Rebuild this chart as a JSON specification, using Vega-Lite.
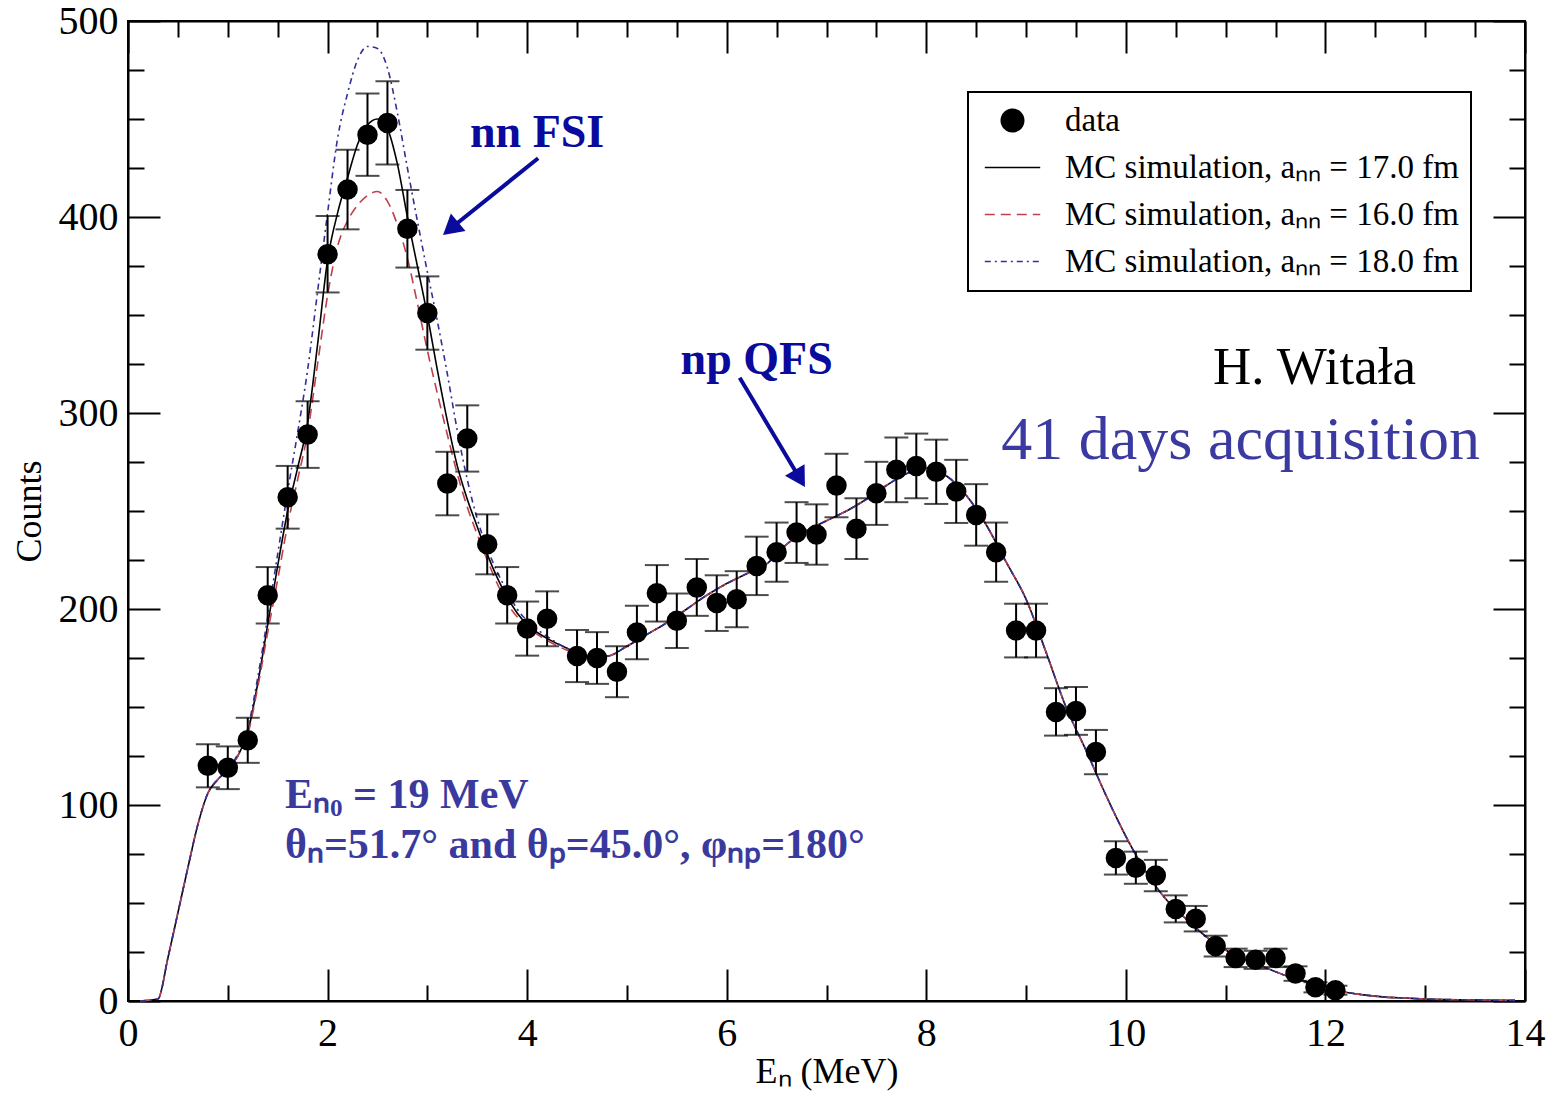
{
  "$schema": "https://vega.github.io/schema/vega-lite/v6.json",
  "width": 1397,
  "height": 980,
  "autosize": {"type": "none"},
  "padding": {"left": 128, "top": 21, "right": 25, "bottom": 98},
  "background": "white",
  "config": {
    "view": {"stroke": "black", "strokeWidth": 2},
    "font": "Liberation Serif",
    "axis": {
      "grid": false, "domainColor": "black", "domainWidth": 2,
      "tickColor": "black", "tickWidth": 2,
      "labelColor": "black", "titleColor": "black",
      "labelFont": "Liberation Serif", "titleFont": "Liberation Serif",
      "titleFontWeight": "normal", "labelFontSize": 40, "titleFontSize": 36
    }
  },
  "resolve": {"axis": {"x": "independent", "y": "independent"}},
  "datasets": {
    "points": [
      {"x": 0.8, "y": 120, "err": 11}, {"x": 1.0, "y": 119, "err": 10.9}, {"x": 1.2, "y": 133, "err": 11.5},
      {"x": 1.4, "y": 207, "err": 14.4}, {"x": 1.6, "y": 257, "err": 16}, {"x": 1.8, "y": 289, "err": 17},
      {"x": 2.0, "y": 381, "err": 19.5}, {"x": 2.2, "y": 414, "err": 20.3}, {"x": 2.4, "y": 442, "err": 21},
      {"x": 2.6, "y": 448, "err": 21.2}, {"x": 2.8, "y": 394, "err": 19.8}, {"x": 3.0, "y": 351, "err": 18.7},
      {"x": 3.2, "y": 264, "err": 16.2}, {"x": 3.4, "y": 287, "err": 16.9}, {"x": 3.6, "y": 233, "err": 15.3},
      {"x": 3.8, "y": 207, "err": 14.4}, {"x": 4.0, "y": 190, "err": 13.8}, {"x": 4.2, "y": 195, "err": 14},
      {"x": 4.5, "y": 176, "err": 13.3}, {"x": 4.7, "y": 175, "err": 13.2}, {"x": 4.9, "y": 168, "err": 13},
      {"x": 5.1, "y": 188, "err": 13.7}, {"x": 5.3, "y": 208, "err": 14.4}, {"x": 5.5, "y": 194, "err": 13.9},
      {"x": 5.7, "y": 211, "err": 14.5}, {"x": 5.9, "y": 203, "err": 14.2}, {"x": 6.1, "y": 205, "err": 14.3},
      {"x": 6.3, "y": 222, "err": 14.9}, {"x": 6.5, "y": 229, "err": 15.1}, {"x": 6.7, "y": 239, "err": 15.5},
      {"x": 6.9, "y": 238, "err": 15.4}, {"x": 7.1, "y": 263, "err": 16.2}, {"x": 7.3, "y": 241, "err": 15.5},
      {"x": 7.5, "y": 259, "err": 16.1}, {"x": 7.7, "y": 271, "err": 16.5}, {"x": 7.9, "y": 273, "err": 16.5},
      {"x": 8.1, "y": 270, "err": 16.4}, {"x": 8.3, "y": 260, "err": 16.1}, {"x": 8.5, "y": 248, "err": 15.7},
      {"x": 8.7, "y": 229, "err": 15.1}, {"x": 8.9, "y": 189, "err": 13.7}, {"x": 9.1, "y": 189, "err": 13.7},
      {"x": 9.3, "y": 147.5, "err": 12.1}, {"x": 9.5, "y": 148, "err": 12.2}, {"x": 9.7, "y": 127, "err": 11.3},
      {"x": 9.9, "y": 73, "err": 8.5}, {"x": 10.1, "y": 68, "err": 8.2}, {"x": 10.3, "y": 64, "err": 8},
      {"x": 10.5, "y": 47, "err": 6.9}, {"x": 10.7, "y": 42, "err": 6.5}, {"x": 10.9, "y": 28, "err": 5.3},
      {"x": 11.1, "y": 22, "err": 4.7}, {"x": 11.3, "y": 21, "err": 4.6}, {"x": 11.5, "y": 22, "err": 4.7},
      {"x": 11.7, "y": 14, "err": 3.7}, {"x": 11.9, "y": 7, "err": 2.6}, {"x": 12.1, "y": 5.5, "err": 2.3}
    ],
    "c17": [
      {"x": 0.12, "y": 0}, {"x": 0.3, "y": 1}, {"x": 0.4, "y": 22}, {"x": 0.5, "y": 45}, {"x": 0.6, "y": 68},
      {"x": 0.7, "y": 90}, {"x": 0.8, "y": 106}, {"x": 0.9, "y": 113}, {"x": 1.0, "y": 118}, {"x": 1.1, "y": 125},
      {"x": 1.2, "y": 137}, {"x": 1.3, "y": 162}, {"x": 1.4, "y": 192}, {"x": 1.5, "y": 222}, {"x": 1.6, "y": 250},
      {"x": 1.7, "y": 272}, {"x": 1.8, "y": 295}, {"x": 1.9, "y": 335}, {"x": 2.0, "y": 378}, {"x": 2.1, "y": 402},
      {"x": 2.2, "y": 420}, {"x": 2.3, "y": 437}, {"x": 2.4, "y": 447}, {"x": 2.5, "y": 450}, {"x": 2.6, "y": 445},
      {"x": 2.7, "y": 427}, {"x": 2.8, "y": 400}, {"x": 2.9, "y": 375}, {"x": 3.0, "y": 350}, {"x": 3.1, "y": 322},
      {"x": 3.2, "y": 296}, {"x": 3.3, "y": 273}, {"x": 3.4, "y": 256}, {"x": 3.5, "y": 242}, {"x": 3.6, "y": 228},
      {"x": 3.7, "y": 216}, {"x": 3.8, "y": 206}, {"x": 3.9, "y": 198}, {"x": 4.0, "y": 192}, {"x": 4.2, "y": 185},
      {"x": 4.4, "y": 180}, {"x": 4.6, "y": 176}, {"x": 4.8, "y": 176}, {"x": 5.0, "y": 181}, {"x": 5.2, "y": 187},
      {"x": 5.4, "y": 193}, {"x": 5.6, "y": 200}, {"x": 5.8, "y": 207}, {"x": 6.0, "y": 213}, {"x": 6.2, "y": 218},
      {"x": 6.4, "y": 223}, {"x": 6.6, "y": 233}, {"x": 6.8, "y": 240}, {"x": 7.0, "y": 245}, {"x": 7.2, "y": 250},
      {"x": 7.4, "y": 256}, {"x": 7.6, "y": 263}, {"x": 7.8, "y": 269}, {"x": 8.0, "y": 272}, {"x": 8.2, "y": 268},
      {"x": 8.4, "y": 258}, {"x": 8.6, "y": 243}, {"x": 8.8, "y": 224}, {"x": 9.0, "y": 205}, {"x": 9.2, "y": 178},
      {"x": 9.4, "y": 150}, {"x": 9.6, "y": 128}, {"x": 9.8, "y": 105}, {"x": 10.0, "y": 84}, {"x": 10.2, "y": 66},
      {"x": 10.4, "y": 52}, {"x": 10.6, "y": 42}, {"x": 10.8, "y": 33}, {"x": 11.0, "y": 26}, {"x": 11.2, "y": 21},
      {"x": 11.4, "y": 17}, {"x": 11.6, "y": 13}, {"x": 11.8, "y": 10}, {"x": 12.0, "y": 6.5}, {"x": 12.2, "y": 4.5},
      {"x": 12.4, "y": 3}, {"x": 12.6, "y": 2}, {"x": 12.8, "y": 1.5}, {"x": 13.0, "y": 1}, {"x": 13.4, "y": 0.6},
      {"x": 13.9, "y": 0.3}
    ],
    "c16": [
      {"x": 0.12, "y": 0}, {"x": 0.3, "y": 1}, {"x": 0.4, "y": 22}, {"x": 0.5, "y": 45}, {"x": 0.6, "y": 68},
      {"x": 0.7, "y": 90}, {"x": 0.8, "y": 106}, {"x": 0.9, "y": 113}, {"x": 1.0, "y": 118}, {"x": 1.1, "y": 125},
      {"x": 1.2, "y": 136}, {"x": 1.3, "y": 160}, {"x": 1.4, "y": 188}, {"x": 1.5, "y": 215}, {"x": 1.6, "y": 243},
      {"x": 1.7, "y": 266}, {"x": 1.8, "y": 290}, {"x": 1.9, "y": 325}, {"x": 2.0, "y": 360}, {"x": 2.1, "y": 385},
      {"x": 2.2, "y": 398}, {"x": 2.3, "y": 406}, {"x": 2.4, "y": 411}, {"x": 2.5, "y": 413}, {"x": 2.6, "y": 408},
      {"x": 2.7, "y": 396}, {"x": 2.8, "y": 379}, {"x": 2.9, "y": 356}, {"x": 3.0, "y": 332}, {"x": 3.1, "y": 310},
      {"x": 3.2, "y": 289}, {"x": 3.3, "y": 269}, {"x": 3.4, "y": 252}, {"x": 3.5, "y": 238}, {"x": 3.6, "y": 225},
      {"x": 3.7, "y": 213}, {"x": 3.8, "y": 203}, {"x": 3.9, "y": 196}, {"x": 4.0, "y": 191}, {"x": 4.2, "y": 184},
      {"x": 4.4, "y": 179}, {"x": 4.6, "y": 176}, {"x": 4.8, "y": 176}, {"x": 5.0, "y": 181}, {"x": 5.2, "y": 187},
      {"x": 5.4, "y": 193}, {"x": 5.6, "y": 200}, {"x": 5.8, "y": 207}, {"x": 6.0, "y": 213}, {"x": 6.2, "y": 218},
      {"x": 6.4, "y": 223}, {"x": 6.6, "y": 233}, {"x": 6.8, "y": 240}, {"x": 7.0, "y": 245}, {"x": 7.2, "y": 250},
      {"x": 7.4, "y": 256}, {"x": 7.6, "y": 263}, {"x": 7.8, "y": 269}, {"x": 8.0, "y": 272}, {"x": 8.2, "y": 268},
      {"x": 8.4, "y": 258}, {"x": 8.6, "y": 243}, {"x": 8.8, "y": 224}, {"x": 9.0, "y": 205}, {"x": 9.2, "y": 178},
      {"x": 9.4, "y": 150}, {"x": 9.6, "y": 128}, {"x": 9.8, "y": 105}, {"x": 10.0, "y": 84}, {"x": 10.2, "y": 66},
      {"x": 10.4, "y": 52}, {"x": 10.6, "y": 42}, {"x": 10.8, "y": 33}, {"x": 11.0, "y": 26}, {"x": 11.2, "y": 21},
      {"x": 11.4, "y": 17}, {"x": 11.6, "y": 13}, {"x": 11.8, "y": 10}, {"x": 12.0, "y": 6.5}, {"x": 12.2, "y": 4.5},
      {"x": 12.4, "y": 3}, {"x": 12.6, "y": 2}, {"x": 12.8, "y": 1.5}, {"x": 13.0, "y": 1}, {"x": 13.4, "y": 0.6},
      {"x": 13.9, "y": 0.3}
    ],
    "c18": [
      {"x": 0.12, "y": 0}, {"x": 0.3, "y": 1}, {"x": 0.4, "y": 22}, {"x": 0.5, "y": 45}, {"x": 0.6, "y": 68},
      {"x": 0.7, "y": 90}, {"x": 0.8, "y": 106}, {"x": 0.9, "y": 113}, {"x": 1.0, "y": 118}, {"x": 1.1, "y": 126},
      {"x": 1.2, "y": 139}, {"x": 1.3, "y": 165}, {"x": 1.4, "y": 196}, {"x": 1.5, "y": 228}, {"x": 1.6, "y": 260},
      {"x": 1.7, "y": 290}, {"x": 1.8, "y": 322}, {"x": 1.9, "y": 362}, {"x": 2.0, "y": 402}, {"x": 2.1, "y": 440},
      {"x": 2.2, "y": 463}, {"x": 2.3, "y": 480}, {"x": 2.4, "y": 487}, {"x": 2.5, "y": 486}, {"x": 2.6, "y": 476},
      {"x": 2.7, "y": 453}, {"x": 2.8, "y": 425}, {"x": 2.9, "y": 398}, {"x": 3.0, "y": 372}, {"x": 3.1, "y": 347},
      {"x": 3.2, "y": 320}, {"x": 3.3, "y": 291}, {"x": 3.4, "y": 266}, {"x": 3.5, "y": 246}, {"x": 3.6, "y": 231},
      {"x": 3.7, "y": 219}, {"x": 3.8, "y": 209}, {"x": 3.9, "y": 200}, {"x": 4.0, "y": 194}, {"x": 4.2, "y": 186},
      {"x": 4.4, "y": 180}, {"x": 4.6, "y": 177}, {"x": 4.8, "y": 176}, {"x": 5.0, "y": 181}, {"x": 5.2, "y": 187},
      {"x": 5.4, "y": 193}, {"x": 5.6, "y": 200}, {"x": 5.8, "y": 207}, {"x": 6.0, "y": 213}, {"x": 6.2, "y": 218},
      {"x": 6.4, "y": 223}, {"x": 6.6, "y": 233}, {"x": 6.8, "y": 240}, {"x": 7.0, "y": 245}, {"x": 7.2, "y": 250},
      {"x": 7.4, "y": 256}, {"x": 7.6, "y": 263}, {"x": 7.8, "y": 269}, {"x": 8.0, "y": 272}, {"x": 8.2, "y": 268},
      {"x": 8.4, "y": 258}, {"x": 8.6, "y": 243}, {"x": 8.8, "y": 224}, {"x": 9.0, "y": 205}, {"x": 9.2, "y": 178},
      {"x": 9.4, "y": 150}, {"x": 9.6, "y": 128}, {"x": 9.8, "y": 105}, {"x": 10.0, "y": 84}, {"x": 10.2, "y": 66},
      {"x": 10.4, "y": 52}, {"x": 10.6, "y": 42}, {"x": 10.8, "y": 33}, {"x": 11.0, "y": 26}, {"x": 11.2, "y": 21},
      {"x": 11.4, "y": 17}, {"x": 11.6, "y": 13}, {"x": 11.8, "y": 10}, {"x": 12.0, "y": 6.5}, {"x": 12.2, "y": 4.5},
      {"x": 12.4, "y": 3}, {"x": 12.6, "y": 2}, {"x": 12.8, "y": 1.5}, {"x": 13.0, "y": 1}, {"x": 13.4, "y": 0.6},
      {"x": 13.9, "y": 0.3}
    ],
    "arrows": [
      {"x": 4.11, "y": 430, "x2": 3.233, "y2": 394.1},
      {"x": 6.13, "y": 318, "x2": 6.733, "y2": 266.6}
    ],
    "head1": [{"x": 3.233, "y": 394.1}],
    "head2": [{"x": 6.733, "y": 266.6}],
    "navyText": [
      {"x": 4.10, "y": 443, "text": "nn FSI"},
      {"x": 6.30, "y": 327, "text": "np QFS"}
    ],
    "author": [{"x": 11.89, "y": 323, "text": "H. Witała"}],
    "days": [{"x": 11.15, "y": 286, "text": "41 days acquisition"}],
    "kin": [
      {"x": 1.573, "y": 98.5, "text": "Eₙ₀ = 19 MeV"},
      {"x": 1.573, "y": 73, "text": "θₙ=51.7° and θₚ=45.0°, φₙₚ=180°"}
    ]
  },
  "layer": [
    {
      "data": {"name": "c17"},
      "mark": {"type": "line", "strokeWidth": 1.6, "interpolate": "monotone"},
      "encoding": {
        "x": {"field": "x", "type": "quantitative",
          "scale": {"domain": [0, 14], "nice": false, "zero": false},
          "axis": {"orient": "bottom", "title": "Eₙ (MeV)", "format": "d",
            "values": [0,0.5,1,1.5,2,2.5,3,3.5,4,4.5,5,5.5,6,6.5,7,7.5,8,8.5,9,9.5,10,10.5,11,11.5,12,12.5,13,13.5,14],
            "labelExpr": "datum.value % 2 === 0 ? datum.label : ''",
            "tickSize": {"condition": {"test": "datum.value % 2 === 0", "value": -32}, "value": -16},
            "labelPadding": 44, "titlePadding": -15, "labelFlush": false, "labelOverlap": false}},
        "y": {"field": "y", "type": "quantitative",
          "scale": {"domain": [0, 500], "nice": false},
          "axis": {"orient": "left", "title": "Counts", "format": "d",
            "values": [0,25,50,75,100,125,150,175,200,225,250,275,300,325,350,375,400,425,450,475,500],
            "labelExpr": "datum.value % 100 === 0 ? datum.label : ''",
            "tickSize": {"condition": {"test": "datum.value % 100 === 0", "value": -32}, "value": -16},
            "labelPadding": 42, "titlePadding": 10, "labelFlush": false, "labelOverlap": false}},
        "color": {"datum": "MC simulation, aₙₙ = 17.0 fm",
          "scale": {"domain": ["data", "MC simulation, aₙₙ = 17.0 fm", "MC simulation, aₙₙ = 16.0 fm", "MC simulation, aₙₙ = 18.0 fm"],
                    "range": ["black", "black", "#c0404a", "#30309a"]},
          "legend": {"orient": "none", "legendX": 840, "legendY": 71, "title": null,
            "strokeColor": "black", "fillColor": "white", "padding": 12,
            "labelFont": "Liberation Serif", "labelFontSize": 33, "labelColor": "black", "labelLimit": 700,
            "symbolSize": 500, "rowPadding": 13, "symbolOffset": 16, "labelOffset": 36,
            "encode": {
              "legend": {"update": {"strokeWidth": {"value": 2}}},
              "symbols": {"update": {
                "shape": {"signal": "datum.value === 'data' ? 'circle' : 'M-3.2,0H3.2'"},
                "size": {"signal": "datum.value === 'data' ? 500 : 300"},
                "fill": {"signal": "datum.value === 'data' ? 'black' : 'transparent'"},
                "stroke": {"signal": "datum.value === 'data' ? 'black' : scale('color', datum.value)"},
                "strokeWidth": {"value": 1.6},
                "opacity": {"value": 1},
                "strokeDash": {"signal": "indexof(datum.value, '16.0') >= 0 ? [10, 6] : (indexof(datum.value, '18.0') >= 0 ? [6, 4, 2, 4] : [1, 0])"}
              }}
            }}}
      }
    },
    {
      "data": {"name": "c16"},
      "mark": {"type": "line", "strokeWidth": 1.6, "interpolate": "monotone", "strokeDash": [10, 6]},
      "encoding": {
        "x": {"field": "x", "type": "quantitative",
          "axis": {"orient": "top", "title": null, "labels": false,
            "values": [0,0.5,1,1.5,2,2.5,3,3.5,4,4.5,5,5.5,6,6.5,7,7.5,8,8.5,9,9.5,10,10.5,11,11.5,12,12.5,13,13.5,14],
            "tickSize": {"condition": {"test": "datum.value % 2 === 0", "value": -32}, "value": -16}}},
        "y": {"field": "y", "type": "quantitative",
          "axis": {"orient": "right", "title": null, "labels": false,
            "values": [0,25,50,75,100,125,150,175,200,225,250,275,300,325,350,375,400,425,450,475,500],
            "tickSize": {"condition": {"test": "datum.value % 100 === 0", "value": -32}, "value": -16}}},
        "color": {"datum": "MC simulation, aₙₙ = 16.0 fm"}
      }
    },
    {
      "data": {"name": "c18"},
      "mark": {"type": "line", "strokeWidth": 1.6, "interpolate": "monotone", "strokeDash": [6, 4, 2, 4]},
      "encoding": {
        "x": {"field": "x", "type": "quantitative", "axis": null},
        "y": {"field": "y", "type": "quantitative", "axis": null},
        "color": {"datum": "MC simulation, aₙₙ = 18.0 fm"}
      }
    },
    {
      "data": {"name": "points"},
      "mark": {"type": "errorbar", "thickness": 2, "color": "black", "ticks": {"size": 24, "thickness": 2, "color": "black"}},
      "encoding": {
        "x": {"field": "x", "type": "quantitative", "axis": null},
        "y": {"field": "y", "type": "quantitative", "axis": null},
        "yError": {"field": "err"}
      }
    },
    {
      "data": {"name": "points"},
      "mark": {"type": "point", "filled": true, "shape": "circle", "size": 420, "opacity": 1},
      "encoding": {
        "x": {"field": "x", "type": "quantitative", "axis": null},
        "y": {"field": "y", "type": "quantitative", "axis": null},
        "color": {"datum": "data"}
      }
    },
    {
      "data": {"name": "arrows"},
      "mark": {"type": "rule", "color": "#0a0a9c", "strokeWidth": 4},
      "encoding": {
        "x": {"field": "x", "type": "quantitative", "axis": null},
        "y": {"field": "y", "type": "quantitative", "axis": null},
        "x2": {"field": "x2"},
        "y2": {"field": "y2"}
      }
    },
    {
      "data": {"name": "head1"},
      "mark": {"type": "point", "shape": "triangle-up", "filled": true, "color": "#0a0a9c", "size": 520, "angle": 230, "opacity": 1},
      "encoding": {
        "x": {"field": "x", "type": "quantitative", "axis": null},
        "y": {"field": "y", "type": "quantitative", "axis": null}
      }
    },
    {
      "data": {"name": "head2"},
      "mark": {"type": "point", "shape": "triangle-up", "filled": true, "color": "#0a0a9c", "size": 520, "angle": 149, "opacity": 1},
      "encoding": {
        "x": {"field": "x", "type": "quantitative", "axis": null},
        "y": {"field": "y", "type": "quantitative", "axis": null}
      }
    },
    {
      "data": {"name": "navyText"},
      "mark": {"type": "text", "font": "Liberation Serif", "fontWeight": "bold", "fontSize": 46, "color": "#0a0a9c", "align": "center", "baseline": "middle"},
      "encoding": {
        "x": {"field": "x", "type": "quantitative", "axis": null},
        "y": {"field": "y", "type": "quantitative", "axis": null},
        "text": {"field": "text"}
      }
    },
    {
      "data": {"name": "author"},
      "mark": {"type": "text", "font": "Liberation Serif", "fontSize": 53, "color": "black", "align": "center", "baseline": "middle"},
      "encoding": {
        "x": {"field": "x", "type": "quantitative", "axis": null},
        "y": {"field": "y", "type": "quantitative", "axis": null},
        "text": {"field": "text"}
      }
    },
    {
      "data": {"name": "days"},
      "mark": {"type": "text", "font": "Liberation Serif", "fontSize": 62, "color": "#3a3aa0", "align": "center", "baseline": "middle"},
      "encoding": {
        "x": {"field": "x", "type": "quantitative", "axis": null},
        "y": {"field": "y", "type": "quantitative", "axis": null},
        "text": {"field": "text"}
      }
    },
    {
      "data": {"name": "kin"},
      "mark": {"type": "text", "font": "Liberation Serif", "fontWeight": "bold", "fontSize": 42, "color": "#3a3a9e", "align": "left", "baseline": "alphabetic"},
      "encoding": {
        "x": {"field": "x", "type": "quantitative", "axis": null},
        "y": {"field": "y", "type": "quantitative", "axis": null},
        "text": {"field": "text"}
      }
    }
  ]
}
